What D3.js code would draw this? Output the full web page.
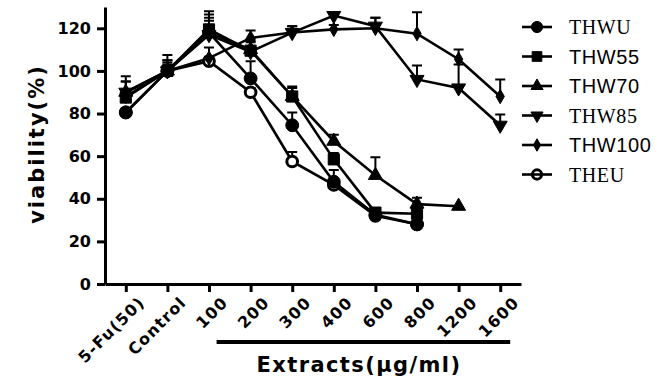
<!DOCTYPE html>
<html>
<head>
<meta charset="utf-8">
<script src="https://cdn.jsdelivr.net/npm/d3@7"></script>
<style>
  body { margin: 0; background: #fff; }
  text { fill: #000; }
</style>
</head>
<body>
<div id="chart"></div>
<script>
const width = 670;
const height = 381;

// Data
const categories = ["5-Fu(50)", "Control", "100", "200", "300", "400", "600", "800", "1200", "1600"];
const seriesNames = ["THWU", "THW55", "THW70", "THW85", "THW100", "THEU"];
const yTicks = [0, 20, 40, 60, 80, 100, 120];

const thwu = [80.5, 100, 118, 96.5, 74.5, 48, 32.5, 28, null, null];
const thwuErr = [2, 3, 8.5, 8, 6, 5.5, 2, 2, null, null];
const thw55 = [87.5, 100, 119.5, 109.5, 88, 58.5, 33.5, 33, null, null];
const thw55Err = [10, 7.5, 8.5, 4, 4.7, 3, 2, 2, null, null];
const thw70 = [90, 100, 118, 110, 88, 67, 51, 37.5, 36.5, null];
const thw70Err = [5, 5, 7, 5, 4, 3, 8.5, 3, 0, null];
const thw85 = [90, 100, 117, 109, 118, 126, 121, 96, 92, 74.5];
const thw85Err = [5, 5, 6.6, 5, 3, 0, 4, 6.5, 11, 5];
const thw100 = [88, 100, 106, 115.5, 118, 119.5, 120, 117.5, 105.5, 88];
const thw100Err = [3, 4, 5, 3.5, 3, 2, 5, 10, 4.5, 8];
const theu = [80.5, 100, 104.6, 90, 57.5, 46.5, 32, 28, null, null];
const theuErr = [1, 2, 2, 2, 4.5, 2, 2, 2, null, null];

const seriesValues = [thwu, thw55, thw70, thw85, thw100, theu];
const seriesErrors = [thwuErr, thw55Err, thw70Err, thw85Err, thw100Err, theuErr];

// marker styles per series
const markers = [
  { type: d3.symbolCircle, size: 130, fill: "#000", rot: 0 },
  { type: d3.symbolSquare, size: 125, fill: "#000", rot: 0 },
  { type: d3.symbolTriangle, size: 85, fill: "#000", rot: 0 },
  { type: d3.symbolTriangle, size: 85, fill: "#000", rot: 180 },
  { type: d3.symbolDiamond, size: 60, fill: "#000", rot: 0 },
  { type: d3.symbolCircle, size: 90, fill: "#fff", rot: 0 }
];
const legendFonts = ["Liberation Serif", "Liberation Sans", "Liberation Sans", "Liberation Serif", "Liberation Sans", "Liberation Serif"];
// open circles sit underneath the filled ones
const drawOrder = [5, 4, 3, 0, 1, 2];

const svg = d3.select("#chart").append("svg").attr("width", width).attr("height", height);

const x = d3.scalePoint().domain(categories).range([105, 521]).padding(0.5);
const y = d3.scaleLinear().domain([0, 130]).range([284, 7]);

// Axes
const yAxis = svg.append("g").attr("transform", "translate(105,0)")
  .call(d3.axisLeft(y).tickValues(yTicks).tickSize(8).tickSizeOuter(0).tickPadding(6));
const xAxis = svg.append("g").attr("transform", "translate(0,284)")
  .call(d3.axisBottom(x).tickSize(8).tickSizeOuter(0).tickPadding(4));

[yAxis, xAxis].forEach(g => {
  g.select(".domain").attr("stroke", "#000").attr("stroke-width", 3);
  g.selectAll(".tick line").attr("stroke", "#000").attr("stroke-width", 3);
});
yAxis.selectAll(".tick text")
  .attr("font-family", "DejaVu Sans").attr("font-weight", "bold").attr("font-size", 16).attr("fill", "#000");
xAxis.selectAll(".tick text")
  .attr("font-family", "DejaVu Sans").attr("font-weight", "bold").attr("font-size", 16).attr("fill", "#000")
  .attr("text-anchor", "end").attr("dy", "0.35em").attr("letter-spacing", 1.2)
  .attr("transform", "translate(7,7) rotate(-45)");

// Axis titles
svg.append("text").attr("transform", "translate(44,144) rotate(-90)")
  .attr("text-anchor", "middle").attr("font-family", "DejaVu Sans").attr("font-weight", "bold")
  .attr("font-size", 21).attr("letter-spacing", 2).text("viability(%)");

svg.append("line").attr("x1", x("200") - 34).attr("x2", x("1600") + 10)
  .attr("y1", 342).attr("y2", 342).attr("stroke", "#000").attr("stroke-width", 4);

svg.append("text").attr("x", 359).attr("y", 372).attr("text-anchor", "middle")
  .attr("font-family", "DejaVu Sans").attr("font-weight", "bold").attr("font-size", 21)
  .attr("letter-spacing", 1.4).text("Extracts(μg/ml)");

// Series
const line = d3.line().defined(d => d.v != null).x(d => x(d.c)).y(d => y(d.v));

drawOrder.forEach(i => {
  const vals = seriesValues[i];
  const pts = vals.map((v, j) => ({ c: categories[j], v: v, e: seriesErrors[i][j] })).filter(d => d.v != null);
  const g = svg.append("g");

  // error bars (upper only)
  g.selectAll(".err").data(pts.filter(d => d.e > 0)).join("path")
    .attr("d", d => {
      const cx = x(d.c), y0 = y(d.v), y1 = y(d.v + d.e);
      return `M${cx},${y0}V${y1}M${cx - 5},${y1}H${cx + 5}`;
    })
    .attr("stroke", "#000").attr("stroke-width", 2).attr("fill", "none");

  g.append("path").datum(pts).attr("d", line)
    .attr("fill", "none").attr("stroke", "#000").attr("stroke-width", 2.6);

  const m = markers[i];
  g.selectAll(".pt").data(pts).join("path")
    .attr("d", d3.symbol().type(m.type).size(m.size))
    .attr("transform", d => `translate(${x(d.c)},${y(d.v)}) rotate(${m.rot})`)
    .attr("fill", m.fill).attr("stroke", "#000").attr("stroke-width", m.fill === "#fff" ? 3 : 1);
});

// Legend
const legend = svg.append("g");
seriesNames.forEach((name, i) => {
  const ly = 27 + i * 29.5;
  const m = markers[i];
  legend.append("line").attr("x1", 522).attr("x2", 552).attr("y1", ly).attr("y2", ly)
    .attr("stroke", "#000").attr("stroke-width", 2.6);
  legend.append("path").attr("d", d3.symbol().type(m.type).size(m.size * 0.75))
    .attr("transform", `translate(537,${ly}) rotate(${m.rot})`)
    .attr("fill", m.fill === "#fff" ? "none" : "#000").attr("stroke", "#000")
    .attr("stroke-width", m.fill === "#fff" ? 3 : 1);
  legend.append("text").attr("x", 569).attr("y", ly).attr("dy", "0.35em")
    .attr("font-family", legendFonts[i]).attr("font-size", 20).attr("letter-spacing", 0.6)
    .text(name);
});
</script>
</body>
</html>
